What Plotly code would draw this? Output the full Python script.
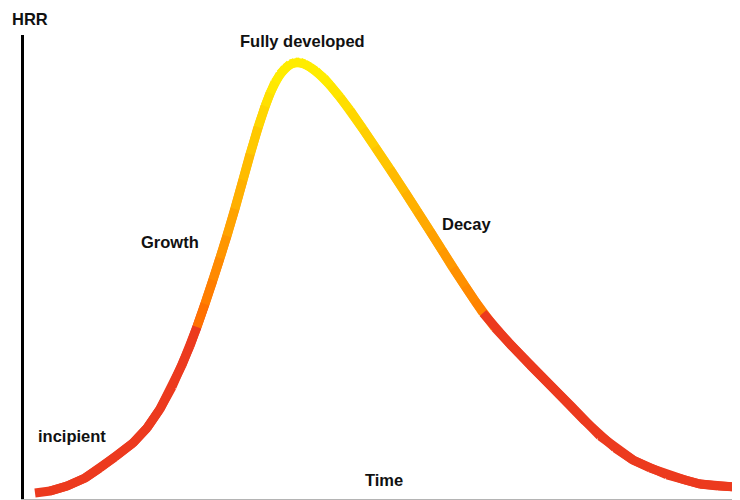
import plotly.graph_objects as go

# Time axis (pixel-like units) and heat release rate readings
time = [35, 50, 67, 85, 100, 115, 133, 147, 160, 172, 182, 190, 197, 205, 213, 220,
        227, 235, 243, 250, 258, 265, 270, 275, 280, 285, 290, 295, 300, 305, 310,
        316, 324, 330, 340, 350, 363, 375, 390, 405, 417, 430, 442, 453, 465, 475,
        483, 495, 510, 530, 550, 570, 585, 600, 615, 633, 650, 667, 685, 700, 718, 735]
hrr_px = [493, 491, 486, 478, 468, 457, 443, 428, 409, 387, 365, 346, 327, 304, 280, 258,
          236, 209, 180, 154, 127, 106, 93, 82, 74, 68, 64, 62, 62, 64, 67,
          71, 78, 85, 97, 110, 129, 147, 169, 192, 211, 231, 250, 268, 286, 301,
          313, 328, 344, 365, 385, 405, 421, 436, 448, 460, 468, 475, 480, 484, 486, 487]
hrr = [500 - v for v in hrr_px]

# Stage boundaries (time)
growth_start = 197
peak_time = 295
decay_end = 483

labels = ["Fully developed", "Growth", "Decay", "incipient", "Time"]
label_x = [302, 170, 466, 72, 384]
label_y = [500 - 41, 500 - 242, 500 - 224, 500 - 436, 500 - 480]
axis_title = "HRR"

RED = (236, 58, 30)
ORANGE_G = (255, 106, 0)
YELLOW = (255, 236, 0)
ORANGE_D = (255, 128, 0)

# page body has an 8px margin; the figure is sized/offset to compensate
OFF = 8
W, H = 740 - OFF, 500 - OFF
ML, MT, MB = 24 - OFF, 35 - OFF, 1


def mix(a, b, t):
    t = max(0.0, min(1.0, t))
    return tuple(round(a[i] + (b[i] - a[i]) * t) for i in range(3))


def colour_at(t):
    if t < growth_start or t > decay_end:
        c = RED
    elif t <= 275:
        c = mix(ORANGE_G, YELLOW, (t - growth_start) / (275 - growth_start))
    elif t <= 325:
        c = YELLOW
    else:
        c = mix(YELLOW, ORANGE_D, (t - 325) / (decay_end - 325))
    return "rgb(%d,%d,%d)" % c


fig = go.Figure()
n = len(time)
for i in range(n - 1):
    mid = (time[i] + time[i + 1]) / 2
    j = min(i + 3, n)  # overlap one extra point so joins are mitred, not notched
    fig.add_trace(go.Scatter(
        x=time[i:j], y=hrr[i:j],
        mode="lines", line=dict(color=colour_at(mid), width=9),
        hoverinfo="skip", showlegend=False))

font = dict(family="Liberation Sans, Arial", size=16.5, color="#111111", weight="bold")
for txt, lx, ly in zip(labels, label_x, label_y):
    fig.add_annotation(x=lx, y=ly, text=txt, showarrow=False,
                       xanchor="center", yanchor="middle", font=font)

# axis title above the vertical axis (paper-referenced so it is not hidden)
fig.add_annotation(xref="paper", yref="paper", x=(30 - 24) / (740 - 24),
                   y=1 + (35 - 19) / (500 - 35 - MB), text=axis_title,
                   showarrow=False, xanchor="center", yanchor="middle", font=font)

fig.update_layout(
    width=W, height=H,
    margin=dict(l=ML, r=0, t=MT, b=MB),
    paper_bgcolor="white", plot_bgcolor="white",
    showlegend=False,
    xaxis=dict(range=[24, 740], showgrid=False, zeroline=False, showticklabels=False,
               ticks="", showline=True, linecolor="#b4b4b4", linewidth=1),
    yaxis=dict(range=[1, 465], showgrid=False, zeroline=False, showticklabels=False,
               ticks="", showline=True, linecolor="black", linewidth=3),
)

fig.write_html("out.html")
